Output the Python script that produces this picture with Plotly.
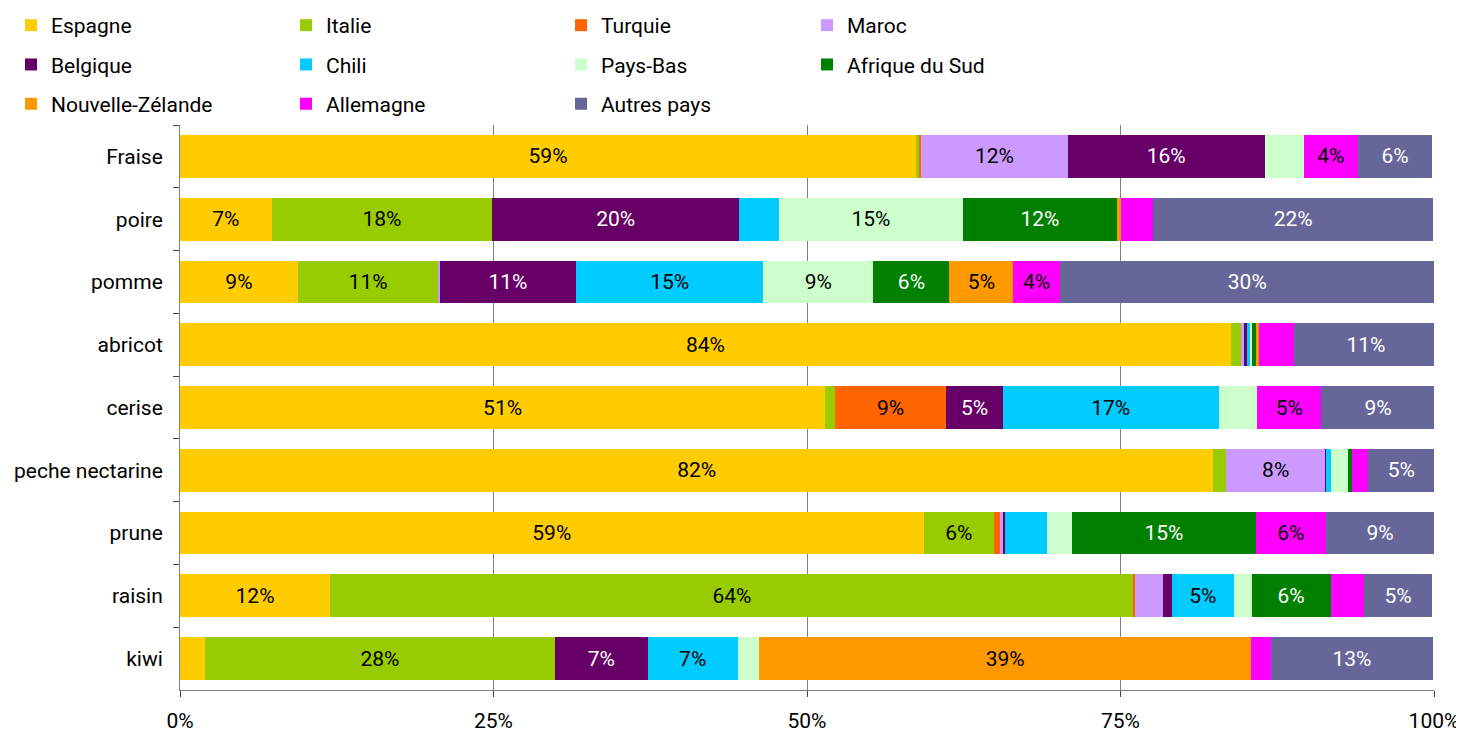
import plotly.graph_objects as go

categories = ["Fraise", "poire", "pomme", "abricot", "cerise", "peche nectarine", "prune", "raisin", "kiwi"]

series_names = ["Espagne", "Italie", "Turquie", "Maroc", "Belgique", "Chili", "Pays-Bas",
                "Afrique du Sud", "Nouvelle-Zélande", "Allemagne", "Autres pays"]

espagne   = [58.7, 7.3, 9.4, 83.8, 51.45, 82.4, 59.3, 11.97, 2.0]
italie    = [0.2, 17.6, 11.2, 0.84, 0.78, 1.0, 5.6, 64.1, 27.9]
turquie   = [0.2, 0.0, 0.0, 0.0, 8.86, 0.0, 0.54, 0.1, 0.0]
maroc     = [11.7, 0.0, 0.1, 0.2, 0.0, 7.95, 0.15, 2.23, 0.0]
belgique  = [15.7, 19.7, 10.9, 0.25, 4.53, 0.07, 0.17, 0.71, 7.4]
chili     = [0.0, 3.2, 14.9, 0.25, 17.2, 0.34, 3.35, 4.92, 7.17]
pays_bas  = [3.1, 14.6, 8.8, 0.15, 3.1, 1.39, 2.06, 1.43, 1.74]
afr_sud   = [0.0, 12.35, 6.06, 0.28, 0.0, 0.34, 14.6, 6.29, 0.0]
nz        = [0.0, 0.27, 5.1, 0.25, 0.0, 0.0, 0.0, 0.0, 39.2]
allemagne = [4.35, 2.6, 3.7, 2.85, 5.07, 1.22, 5.63, 2.66, 1.62]
autres    = [5.9, 22.3, 29.9, 11.4, 9.1, 5.37, 8.6, 5.46, 12.85]

values = [espagne, italie, turquie, maroc, belgique, chili, pays_bas, afr_sud, nz, allemagne, autres]

x_tickvals = [0, 25, 50, 75, 100]
x_ticktext = ["0%", "25%", "50%", "75%", "100%"]

colors = ["#FFCC00", "#99CC00", "#FF6600", "#CC99FF", "#660066", "#00CCFF", "#CCFFCC",
          "#008000", "#FF9900", "#FF00FF", "#666699"]
text_colors = ["black", "black", "black", "black", "white", "black", "black",
               "white", "black", "black", "white"]

FONT = "Roboto"
FS = 21
fig = go.Figure()
legend_ids = ["legend", "legend2", "legend3", "legend4"]
for i, (name, vals) in enumerate(zip(series_names, values)):
    labels = [f"{round(v)}%" if v >= 3.5 else "" for v in vals]
    fig.add_trace(go.Bar(
        y=categories, x=vals, name=name, orientation="h",
        marker=dict(color=colors[i], line=dict(width=0)),
        text=labels, textposition="inside", insidetextanchor="middle",
        textfont=dict(color=text_colors[i], size=FS, family=FONT),
        textangle=0, constraintext="none",
        legend=legend_ids[i % 4], legendgroup=name,
        hovertemplate="%{y}: %{x:.1f}%<extra>" + name + "</extra>",
    ))

# body has an 8px default margin, so container coords are shifted by 8px
legend_x = [3, 278, 553, 799]
PAPER_H = 735 - 117 - 53
layout_legends = {}
for j, lid in enumerate(legend_ids):
    layout_legends[lid] = dict(
        orientation="v", x=legend_x[j] / 1464, xref="container", xanchor="left",
        y=1 + 120 / PAPER_H, yref="paper", yanchor="top",
        font=dict(size=FS, family=FONT, color="black"),
        traceorder="grouped", tracegroupgap=9,
        bgcolor="rgba(0,0,0,0)", borderwidth=0,
    )

fig.update_layout(
    barmode="stack", bargap=0.32,
    width=1464, height=735,
    margin=dict(l=172, r=38, t=117, b=53, autoexpand=False),
    plot_bgcolor="white", paper_bgcolor="white",
    font=dict(family=FONT, size=FS, color="black"),
    uniformtext=dict(mode=False),
    **layout_legends,
)
fig.update_xaxes(
    range=[0, 100], tickmode="array", tickvals=x_tickvals, ticktext=x_ticktext,
    showgrid=True, gridcolor="#808080", gridwidth=1,
    showline=True, linecolor="#808080", linewidth=1,
    ticks="outside", ticklen=6, tickcolor="#404040", ticklabelstandoff=6,
    tickfont=dict(size=FS, family=FONT), zeroline=False,
)
fig.update_yaxes(
    categoryorder="array", categoryarray=categories, autorange="reversed",
    showline=True, linecolor="#808080", linewidth=1,
    ticks="outside", ticklen=6, tickcolor="#404040", tickson="boundaries",
    ticklabelstandoff=12,
    tickfont=dict(size=FS, family=FONT), showgrid=False,
)
fig.write_html("out.html")
